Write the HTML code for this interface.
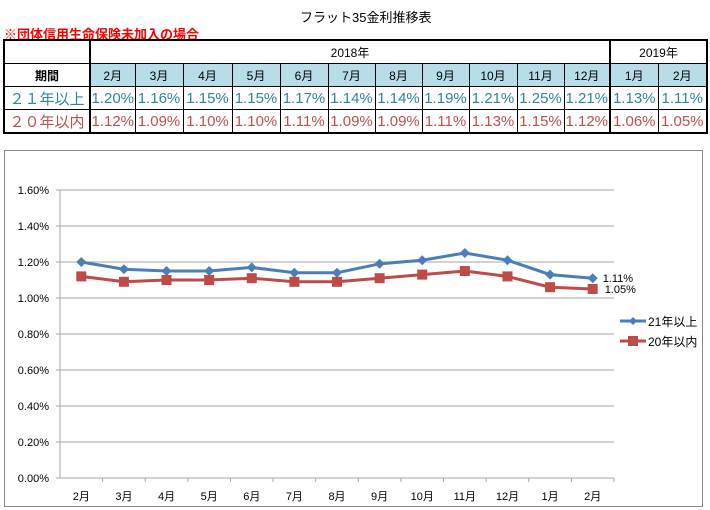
<!DOCTYPE html>
<html><head><meta charset="utf-8"><style>
body{margin:0;width:710px;height:510px;background:#fff;font-family:"Liberation Sans","Noto Sans CJK JP",sans-serif;position:relative;overflow:hidden}
.t{position:absolute}
table{position:absolute;left:3px;top:39px;border-collapse:collapse;table-layout:fixed}
td{border:1px solid #000;text-align:center;padding:0;height:22px;font-size:12px}
.hd td.m{background:#b7dde8}
.b{font-weight:bold}
.r1 td{color:#31849b;font-size:15px}
.r2 td{color:#c0504d;font-size:15px}
</style></head><body>
<div class="t" style="left:300px;top:7px;font-size:13px">フラット35金利推移表</div>
<div class="t" style="left:4px;top:24px;font-size:13px;color:#ff0000;font-weight:bold">※団体信用生命保険未加入の場合</div>
<table style="border:2px solid #000">
<colgroup><col style="width:86px"><col style="width:45px"><col style="width:48px"><col style="width:49px"><col style="width:48px"><col style="width:48px"><col style="width:47px"><col style="width:47px"><col style="width:47px"><col style="width:48px"><col style="width:47px"><col style="width:46px"><col style="width:48px"><col style="width:49px"></colgroup>
<tr><td></td><td colspan="11" style="border-left:2px solid #000;border-right:2px solid #000">2018年</td><td colspan="2">2019年</td></tr>
<tr class="hd"><td class="b">期間</td><td class="m" style="border-left:2px solid #000">2月</td><td class="m">3月</td><td class="m">4月</td><td class="m">5月</td><td class="m">6月</td><td class="m">7月</td><td class="m">8月</td><td class="m">9月</td><td class="m">10月</td><td class="m">11月</td><td class="m" style="border-right:2px solid #000">12月</td><td class="m">1月</td><td class="m">2月</td></tr>
<tr class="r1"><td>２１年以上</td><td style="border-left:2px solid #000">1.20%</td><td>1.16%</td><td>1.15%</td><td>1.15%</td><td>1.17%</td><td>1.14%</td><td>1.14%</td><td>1.19%</td><td>1.21%</td><td>1.25%</td><td style="border-right:2px solid #000">1.21%</td><td>1.13%</td><td>1.11%</td></tr>
<tr class="r2"><td>２０年以内</td><td style="border-left:2px solid #000">1.12%</td><td>1.09%</td><td>1.10%</td><td>1.10%</td><td>1.11%</td><td>1.09%</td><td>1.09%</td><td>1.11%</td><td>1.13%</td><td>1.15%</td><td style="border-right:2px solid #000">1.12%</td><td>1.06%</td><td>1.05%</td></tr>
</table>
<svg id="c" width="710" height="510" style="position:absolute;left:0;top:0">
<rect x="4.5" y="150.5" width="698" height="356" fill="none" stroke="#888"/>
</svg>
<script>
const categories=["2月","3月","4月","5月","6月","7月","8月","9月","10月","11月","12月","1月","2月"];
const over21=[1.20,1.16,1.15,1.15,1.17,1.14,1.14,1.19,1.21,1.25,1.21,1.13,1.11];
const under20=[1.12,1.09,1.10,1.10,1.11,1.09,1.09,1.11,1.13,1.15,1.12,1.06,1.05];
const yTicks=[0,0.2,0.4,0.6,0.8,1.0,1.2,1.4,1.6];
const seriesNames=["21年以上","20年以内"];
const svg=document.getElementById('c');const NS="http://www.w3.org/2000/svg";
const X0=60,X1=614,Y0=478,Y1=190;
const step=(X1-X0)/categories.length;
const x=i=>X0+step*(i+0.5);
const y=v=>Y0-(v/1.6)*(Y0-Y1);
function mk(t,a){const e=document.createElementNS(NS,t);for(const k in a)e.setAttribute(k,a[k]);svg.appendChild(e);return e;}
yTicks.forEach(v=>{
 const g=mk('line',{x1:X0-4,x2:X1,y1:y(v),y2:y(v),stroke:'#a6a6a6'});
 
 
 const t=mk('text',{x:49,y:y(v)+4,'text-anchor':'end','font-size':11,fill:'#000'});
 t.textContent=v.toFixed(2)+'%';
 
 
});
mk('line',{x1:X0,x2:X0,y1:Y1,y2:Y0,stroke:'#a6a6a6'});
categories.forEach((c,i)=>{
 mk('line',{x1:X0+step*(i+1),x2:X0+step*(i+1),y1:Y0,y2:Y0+4,stroke:'#a6a6a6'});
 const t=mk('text',{x:x(i),y:Y0+22,'text-anchor':'middle','font-size':11,'font-family':'Liberation Sans, Noto Sans CJK JP, sans-serif'});
 t.textContent=c;
 
 
});
function series(d,col,shape,name){
 const p=mk('polyline',{points:d.map((v,i)=>x(i)+','+y(v)).join(' '),fill:'none',stroke:col,'stroke-width':3});
 
 
 d.forEach((v,i)=>{
  let m;
  if(shape==='d')m=mk('polygon',{points:`${x(i)},${y(v)-5} ${x(i)+5},${y(v)} ${x(i)},${y(v)+5} ${x(i)-5},${y(v)}`,fill:col});
  else m=mk('rect',{x:x(i)-5,y:y(v)-5,width:10,height:10,fill:col});
  
  
 });
}
series(over21,'#4a7ebb','d','over21');
series(under20,'#be4b48','s','under20');
const l1=mk('text',{x:x(12)+10,y:y(over21[12])+4,'font-size':11});l1.textContent=over21[12].toFixed(2)+'%';


const l2=mk('text',{x:x(12)+12,y:y(under20[12])+4,'font-size':11});l2.textContent=under20[12].toFixed(2)+'%';


[['#4a7ebb','d',321],['#be4b48','s',341]].forEach((s,k)=>{
 mk('line',{x1:620,x2:646,y1:s[2],y2:s[2],stroke:s[0],'stroke-width':3});
 if(s[1]==='d')mk('polygon',{points:`633,${s[2]-4} 637,${s[2]} 633,${s[2]+4} 629,${s[2]}`,fill:s[0]});
 else mk('rect',{x:628,y:s[2]-5,width:10,height:10,fill:s[0]});
 const t=mk('text',{x:648,y:s[2]+5,'font-size':12,'font-family':'Liberation Sans, Noto Sans CJK JP, sans-serif'});
 t.textContent=seriesNames[k];
 
 
});
</script>
</body></html>
